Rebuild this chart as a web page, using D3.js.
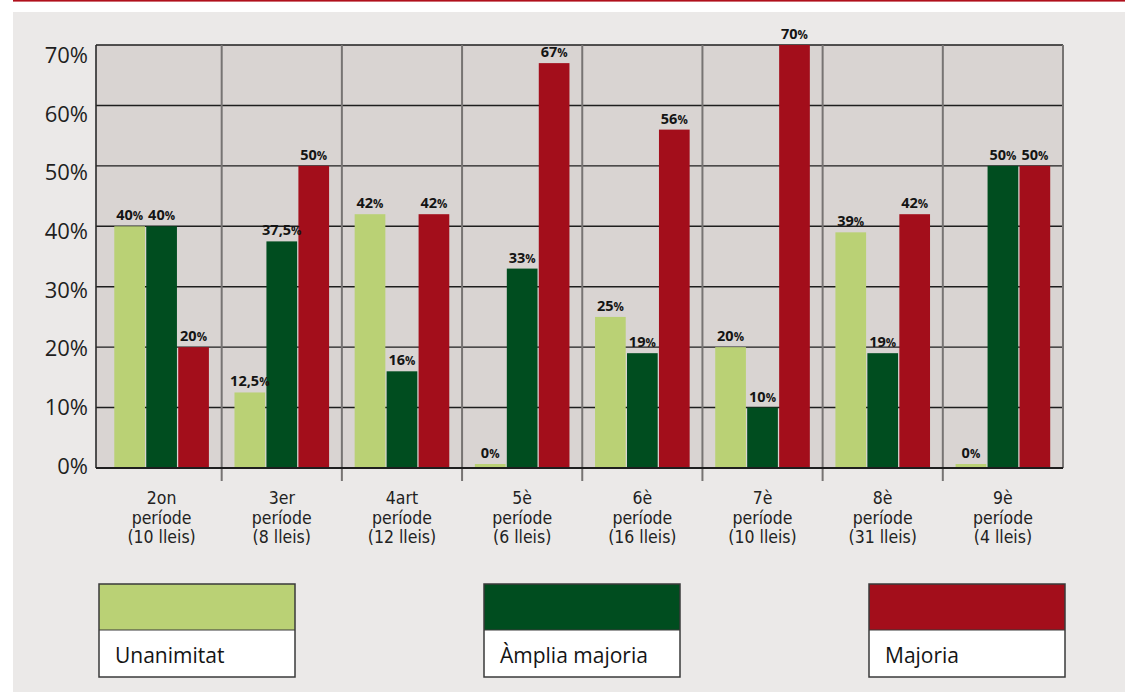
<!DOCTYPE html>
<html>
<head>
<meta charset="utf-8">
<script src="https://cdn.jsdelivr.net/npm/d3@7"></script>
<style>
  html, body { margin: 0; padding: 0; background: #ffffff; }
  svg { display: block; }
</style>
</head>
<body>
<svg id="chart" width="1125" height="692"></svg>
<script>
// ---- DATA ----
const categories = [
  ["2on", "període", "(10 lleis)"],
  ["3er", "període", "(8 lleis)"],
  ["4art", "període", "(12 lleis)"],
  ["5è", "període", "(6 lleis)"],
  ["6è", "període", "(16 lleis)"],
  ["7è", "període", "(10 lleis)"],
  ["8è", "període", "(31 lleis)"],
  ["9è", "període", "(4 lleis)"]
];
const seriesNames = ["Unanimitat", "Àmplia majoria", "Majoria"];
const unanimitat    = [40, 12.5, 42, 0, 25, 20, 39, 0];
const ampliaMajoria = [40, 37.5, 16, 33, 19, 10, 19, 50];
const majoria       = [20, 50, 42, 67, 56, 70, 42, 50];
const yTicks = [0, 10, 20, 30, 40, 50, 60, 70];
const seriesColors = ["#bad175", "#004d1f", "#a30e1b"];

// ---- BUILD ----
const seriesValues = [unanimitat, ampliaMajoria, majoria];
const table = categories.map((c, i) => ({
  key: i,
  lines: c,
  values: seriesNames.map((s, j) => ({ series: s, idx: j, value: seriesValues[j][i] }))
}));

const svg = d3.select("#chart");

// background panel + top red rule
svg.append("rect").attr("x", 13).attr("y", 12).attr("width", 1112).attr("height", 680).attr("fill", "#ebe9e8");
svg.append("rect").attr("x", 13).attr("y", 0).attr("width", 1112).attr("height", 1.6).attr("fill", "#b0101c");

const plotLeft = 96, plotRight = 1063, plotTop = 45, plotBottom = 468;

const y = d3.scaleLinear().domain([0, 70]).range([plotBottom, plotTop]);
const yLab = d3.scaleLinear().domain([0, 70]).range([466, 55]);
const x0 = d3.scaleBand().domain(table.map(d => d.key)).range([101.5, plotRight]).padding(0);
const x1 = d3.scaleBand().domain(seriesNames.map((s, j) => j)).range([0, x0.bandwidth()])
  .paddingInner(0.04).paddingOuter(0.4);

// plot background
svg.append("rect").attr("x", plotLeft).attr("y", plotTop).attr("width", plotRight - plotLeft)
  .attr("height", plotBottom - plotTop).attr("fill", "#d9d4d2");

// horizontal gridlines
svg.append("g").selectAll("line").data(yTicks.filter(t => t > 0)).join("line")
  .attr("x1", plotLeft).attr("x2", plotRight)
  .attr("y1", d => y(d)).attr("y2", d => y(d))
  .attr("stroke", "#1e1e1e").attr("stroke-width", 1.4);

// vertical dividers (band boundaries)
const boundaries = table.slice(1).map(d => x0(d.key)).concat([plotRight]);
svg.append("g").selectAll("line").data(boundaries).join("line")
  .attr("x1", d => d).attr("x2", d => d)
  .attr("y1", plotTop).attr("y2", d => d === plotRight ? plotBottom : plotBottom + 13)
  .attr("stroke", "#777473").attr("stroke-width", 2);

// left axis line
svg.append("line").attr("x1", plotLeft).attr("x2", plotLeft).attr("y1", plotTop).attr("y2", plotBottom)
  .attr("stroke", "#2a2a2a").attr("stroke-width", 1.6);

// y tick labels
svg.append("g").selectAll("text").data(yTicks).join("text")
  .attr("x", 88).attr("y", d => yLab(d)).attr("dy", "0.36em")
  .attr("text-anchor", "end")
  .attr("font-family", "'Open Sans', sans-serif").attr("font-size", 22)
  .attr("fill", "#1f1f1f")
  .text(d => d + "%");

// bars
const groups = svg.append("g").selectAll("g").data(table).join("g")
  .attr("transform", d => `translate(${x0(d.key)},0)`);

groups.selectAll("rect").data(d => d.values).join("rect")
  .attr("x", d => x1(d.idx))
  .attr("width", x1.bandwidth())
  .attr("y", d => Math.min(y(d.value), plotBottom - 4))
  .attr("height", d => Math.max(plotBottom - y(d.value), 4))
  .attr("fill", d => seriesColors[d.idx]);

// value labels
const fmt = v => String(v).replace(".", ",");
const labels = groups.selectAll("text").data(d => d.values).join("text")
  .attr("x", d => x1(d.idx) + x1.bandwidth() / 2)
  .attr("y", d => Math.min(y(d.value), plotBottom - 4) - 6)
  .attr("text-anchor", "middle")
  .attr("font-family", "'Open Sans', sans-serif").attr("font-weight", 700)
  .attr("fill", "#141414");
labels.append("tspan").attr("font-size", 14.5).text(d => fmt(d.value));
labels.append("tspan").attr("font-size", 11.5).text("%");

// bottom axis line
svg.append("line").attr("x1", plotLeft).attr("x2", plotRight).attr("y1", plotBottom).attr("y2", plotBottom)
  .attr("stroke", "#1e1e1e").attr("stroke-width", 1.8);

// category labels
const catG = svg.append("g").selectAll("text").data(table).join("text")
  .attr("text-anchor", "middle")
  .attr("font-family", "'Liberation Sans Narrow', 'DejaVu Sans Condensed', sans-serif")
  .attr("font-size", 17.5)
  .attr("fill", "#222");
catG.selectAll("tspan").data(d => d.lines.map(l => ({ l, cx: x0(d.key) + x0.bandwidth() / 2 }))).join("tspan")
  .attr("x", d => d.cx)
  .attr("y", (d, i) => 504 + i * 19.5)
  .text(d => d.l);

// legend
const legendX = [99, 484, 869];
const legend = svg.append("g").selectAll("g").data(seriesNames).join("g")
  .attr("transform", (d, i) => `translate(${legendX[i]},584)`);
legend.append("rect").attr("width", 196).attr("height", 46).attr("fill", (d, i) => seriesColors[i]);
legend.append("rect").attr("y", 46).attr("width", 196).attr("height", 47).attr("fill", "#ffffff");
legend.append("rect").attr("width", 196).attr("height", 93).attr("fill", "none")
  .attr("stroke", "#3a3a3a").attr("stroke-width", 1.5);
legend.append("line").attr("x1", 0).attr("x2", 196).attr("y1", 46).attr("y2", 46)
  .attr("stroke", "#3a3a3a").attr("stroke-width", 1.2);
legend.append("text").attr("x", 16).attr("y", 79)
  .attr("font-family", "'Open Sans', sans-serif").attr("font-size", 21)
  .attr("fill", "#141414")
  .text(d => d);
</script>
</body>
</html>
